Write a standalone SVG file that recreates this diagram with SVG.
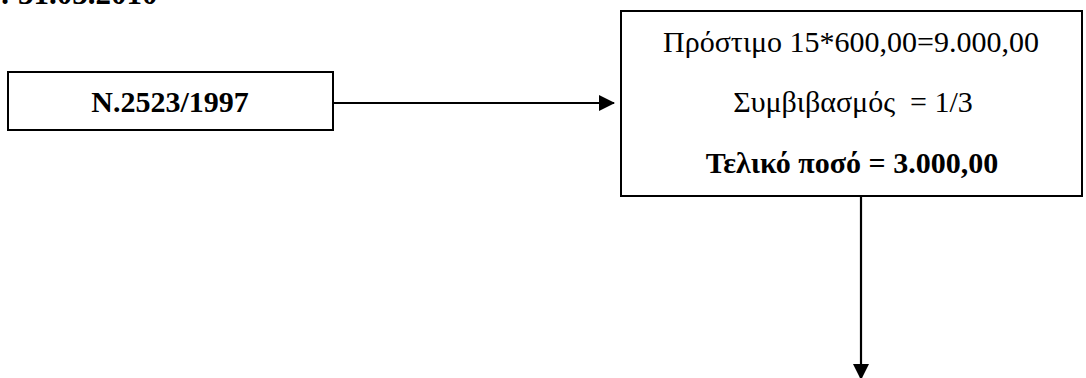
<svg xmlns="http://www.w3.org/2000/svg" width="1086" height="378" viewBox="0 0 1086 378">
<style>
text{font-family:"Liberation Serif","Times New Roman",serif;fill:#000;text-anchor:middle;font-size:30px;white-space:pre}
.b{font-weight:bold}
.box{fill:#fff;stroke:#000;stroke-width:2}
.ln{stroke:#000;stroke-width:2.2;fill:none}
</style>
<defs>
<marker id="ah" markerWidth="16" markerHeight="16" refX="15" refY="8" orient="auto" markerUnits="userSpaceOnUse">
<path d="M0,0 L16,8 L0,16 Z" fill="#000"/>
</marker>
</defs>
<text class="b" x="0" y="4" style="text-anchor:start;font-size:31px">: 31.03.2010</text>
<g id="connectors">
<line class="ln" x1="333" y1="103" x2="614" y2="103" marker-end="url(#ah)"/>
<line class="ln" x1="861" y1="197" x2="861" y2="379" marker-end="url(#ah)"/>
</g>
<g id="n1">
<rect class="box" x="8" y="72" width="325" height="58"/>
<text class="b" x="170" y="112">N.2523/1997</text>
</g>
<g id="n2">
<rect class="box" x="621" y="11" width="461" height="185"/>
<text x="851" y="52">Πρόστιμο 15*600,00=9.000,00</text>
<text x="853" y="112" xml:space="preserve">Συμβιβασμός  = 1/3</text>
<text class="b" x="852" y="173">Τελικό ποσό = 3.000,00</text>
</g>
</svg>
